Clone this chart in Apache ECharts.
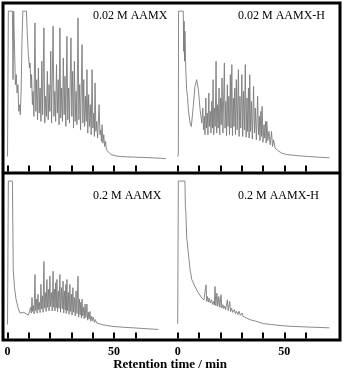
<!DOCTYPE html>
<html>
<head>
<meta charset="utf-8">
<script src="https://cdn.jsdelivr.net/npm/echarts@6/dist/echarts.min.js"></script>
<style>
  html, body { margin: 0; padding: 0; background: #fff; }
  #chart { width: 345px; height: 377px; }
</style>
</head>
<body>
<div id="chart"></div>
<script>
// Chromatograms: [retention time (min), detector signal (% of full scale)]
const trace002AAMX = [
  [0,9],[0.3,10],[0.4,96],[2.3,96],[2.6,55],[2.9,96],[3.3,96],[3.7,52],[4.1,58],[4.5,47],[4.9,52],[5.3,36],[5.7,40],[6.0,34],[6.4,48],[6.8,78],[7.2,96],[8.9,96],[9.3,82],[9.8,70],[10.3,62],
  [10.6,65],[11.0,50],[11.3,58],[11.7,40],[12.0,48],[12.4,33],[12.9,89],[13.3,36],[13.7,55],[14.1,31],[14.5,62],[14.9,35],[15.3,50],[15.7,30],[16.1,66],[16.5,34],[17.1,86],[17.5,29],[17.9,45],[18.3,33],[18.7,60],[19.1,31],[19.5,52],[19.9,36],[20.3,72],[20.7,29],[21.4,87],[21.8,33],[22.2,48],[22.6,30],[23.0,64],[23.4,35],[23.8,55],[24.2,28],[24.6,86],[25.0,32],[25.4,50],[25.8,30],[26.2,68],[26.6,34],[27.0,57],[27.4,27],[27.9,81],[28.3,31],[28.7,50],[29.1,29],[29.8,80],[30.2,33],[30.6,60],[31.0,26],[31.4,66],[31.8,30],[32.2,48],[32.6,28],[33.1,92],[33.5,31],[33.9,52],[34.3,25],[35.0,76],[35.4,29],[35.8,55],[36.2,27],[36.6,45],[37.0,30],[37.3,61],[37.7,23],[38.1,46],[38.5,27],[38.9,40],[39.3,22],[39.7,61],[40.1,26],[40.5,35],[40.8,21],[41.1,53],[41.5,24],[41.9,30],[42.3,20],[43.0,40],[43.4,22],[43.8,25],[44.1,18],[44.4,28],[44.8,17],[45.2,22],[45.6,15],[46.0,18],[46.5,13],[47.0,12],[48.0,10.8],[49.0,10],[51.0,9.3],[53.0,9],[56.0,8.8],[60.0,8.6],[64.0,8.4],[68.0,8.2],[72.0,7.9],[74.4,7.7]
];

const trace002AAMXH = [
  [0,9],[0.3,10.5],[0.4,96],[2.6,96],[2.8,72],[3.0,90],[3.2,66],[3.4,84],[3.8,61],[4.2,49],[4.6,45],[5.0,37],[5.8,29],[6.4,27],[7.3,39],[8.1,51],[8.9,55],[9.7,49],[10.5,37],[11.3,29],
  [11.8,38],[12.1,25],[12.5,33],[12.8,22],[13.2,44],[13.5,26],[13.9,35],[14.2,22],[14.6,47],[14.9,27],[15.3,36],[15.6,23],[16.0,42],[16.3,26],[16.6,55],[16.9,22],[17.3,38],[17.6,27],[18.0,66],[18.3,23],[18.7,40],[19.0,26],[19.4,50],[19.7,22],[20.1,44],[20.4,28],[20.8,56],[21.2,23],[21.9,65],[22.2,26],[22.6,42],[22.9,21.5],[23.3,52],[23.6,27],[24.0,45],[24.3,22],[24.7,58],[25.0,26],[25.4,64],[25.7,21.5],[26.1,44],[26.4,27],[26.8,50],[27.1,22],[27.5,55],[27.9,25],[28.5,61],[28.8,21],[29.2,45],[29.6,26],[30.1,58],[30.5,21],[30.9,48],[31.3,25],[31.7,64],[32.1,20.5],[32.5,44],[32.8,24],[33.2,50],[33.5,20],[33.8,58],[34.2,24],[34.6,42],[35.0,19.5],[35.6,51],[36.0,23],[36.4,38],[36.9,19],[37.5,45],[37.9,22],[38.3,33],[38.6,18.5],[39.0,36],[39.3,21],[39.6,39],[40.0,17.5],[40.5,28],[40.8,20],[41.2,30],[41.5,17],[41.8,30],[42.3,18.5],[42.8,24],[43.4,16],[44.0,24],[44.5,15],[45.0,19],[45.7,14],[47.0,12.5],[48.8,11],[51.0,10.2],[56.0,9.5],[62.0,8.9],[67.0,8.5],[71.2,8.2]
];

const trace02AAMX = [
  [0,8.5],[0.3,8.5],[0.4,96],[2.3,96],[2.5,70],[2.7,42],[3.3,31],[4.0,24],[5.1,18],[5.9,15.5],[6.8,15.2],[7.7,16],[8.7,15],[9.8,14.3],[10.4,15],
  [10.9,19],[11.2,15.5],[11.5,25],[11.8,16.5],[12.2,20],[12.5,15],[12.9,39],[13.2,17],[13.6,24],[13.9,15.5],[14.3,27],[14.6,17.5],[15.0,22],[15.3,15.8],[15.7,33],[16.0,18],[16.4,26],[16.7,16],[17.1,47],[17.4,18.5],[17.8,28],[18.1,16.5],[18.5,36],[18.8,19],[19.2,30],[19.5,16.8],[19.9,38],[20.2,19.5],[20.6,28],[21.0,16.8],[21.4,41],[21.7,19],[22.1,30],[22.3,16.8],[22.6,34],[22.9,18.8],[23.2,36],[23.5,16.4],[23.9,29],[24.2,18.5],[24.6,39],[24.9,16],[25.3,31],[25.7,18],[26.1,35],[26.4,15.6],[26.8,29],[27.1,17.5],[27.4,33],[27.6,15.2],[27.9,36],[28.2,17],[28.6,28],[28.9,14.8],[29.3,33],[29.6,16.5],[30.0,27],[30.3,14.3],[30.7,31],[31.0,16],[31.4,25],[31.8,13.8],[32.2,29],[32.6,15.2],[33.1,38],[33.4,13],[33.8,24],[34.1,14.5],[34.4,22],[34.7,12.5],[35.0,24],[35.3,13.8],[35.7,19],[36.0,12],[36.4,21],[36.8,12.8],[37.3,21],[37.6,11.2],[38.0,16],[38.3,11.8],[38.7,16.5],[39.1,10.5],[39.5,13.5],[39.9,10.8],[40.3,13],[40.8,9.8],[41.2,11.5],[41.9,9.5],[44.0,8.6],[46.6,7.9],[50.0,7.3],[55.0,6.8],[59.0,6.5],[65.0,6],[70.8,5.5]
];

const trace02AAMXH = [
  [0,9],[0.2,9],[0.3,96],[3.4,96],[3.6,80],[3.8,78],[4.2,62],[5.0,52],[5.8,42],[6.6,36],[8.1,31.7],[9.7,27.8],[11.3,24.8],[12.3,23.5],
  [12.8,23.2],[13.3,32.7],[13.6,22.6],[14.0,25.6],[14.4,22.2],[14.8,24.6],[15.3,21.6],[15.9,23.6],[16.4,20.8],[16.9,22.6],[17.2,20.4],[17.5,31.7],[17.9,20.0],[18.4,27.7],[18.8,19.6],[19.3,25.6],[19.8,19.0],[20.3,26.7],[20.7,18.6],[21.2,20.6],[21.6,18.2],[22.0,19.8],[22.5,17.6],[23.3,23.6],[23.7,17.0],[24.4,22.6],[24.8,16.4],[25.3,18.4],[25.8,15.9],[26.6,17.6],[27.1,15.2],[27.6,16.6],[28.2,14.6],[28.8,16.6],[29.4,14.1],[30.2,15.6],[30.7,13.5],[31.4,14.2],[32.2,12.6],[33.0,13.2],[34.0,11.4],[36.0,10.8],[38.0,10.0],[40.2,9.1],[44.0,8.5],[48.0,7.9],[52.0,7.5],[59.0,7.1],[65.0,6.8],[71.2,6.5]
];

const panelNames = ['0.02 M AAMX', '0.02 M AAMX-H', '0.2 M AAMX', '0.2 M AAMX-H'];
const tickMinutes = [0, 10, 20, 30, 40, 50, 60];
const labelMinutes = [0, 50];
const axisTitle = 'Retention time / min';

const traces = [trace002AAMX, trace002AAMXH, trace02AAMX, trace02AAMXH];

// panel geometry: two columns, two rows inside one frame
const cols = [{ left: 7.5, width: 164, max: 77 }, { left: 177.7, width: 162, max: 76 }];
const rows = [{ top: 4.5, height: 167 }, { top: 174.5, height: 164 }];

const grids = [], xAxes = [], yAxes = [], series = [];
for (let r = 0; r < 2; r++) {
  for (let c = 0; c < 2; c++) {
    const i = r * 2 + c;
    grids.push({ left: cols[c].left, top: rows[r].top, width: cols[c].width, height: rows[r].height });
    xAxes.push({
      type: 'value', gridIndex: i, min: 0, max: cols[c].max,
      axisLine: { show: false },
      splitLine: { show: false },
      axisTick: { show: true, inside: true, length: 6, customValues: tickMinutes,
                  lineStyle: { color: '#000', width: 2 } },
      axisLabel: { show: r === 1, customValues: labelMinutes, margin: 7,
                   fontFamily: '"Liberation Serif", serif', fontWeight: 'bold',
                   fontSize: 12, color: '#000' }
    });
    yAxes.push({ type: 'value', gridIndex: i, min: 0, max: 100, show: false });
    series.push({
      type: 'line', xAxisIndex: i, yAxisIndex: i, data: traces[i],
      showSymbol: false, symbol: 'none', smooth: false, clip: true,
      lineStyle: { color: '#7c7c7c', width: 0.9 }, animation: false
    });
  }
}

const nameSpots = [[93, 10], [238, 10], [93, 190], [238, 190]];
const graphics = [
  { type: 'rect', shape: { x: 3, y: 3, width: 337, height: 337 },
    style: { fill: 'none', stroke: '#000', lineWidth: 3 }, z: 10 },
  { type: 'line', shape: { x1: 3, y1: 173, x2: 340, y2: 173 },
    style: { stroke: '#000', lineWidth: 3 }, z: 10 },
  { type: 'text', x: 170, y: 358,
    style: { text: axisTitle, fontFamily: '"Liberation Serif", serif', fontWeight: 'bold',
             fontSize: 13, fill: '#000', textAlign: 'center', textVerticalAlign: 'top' } }
];
panelNames.forEach((name, i) => {
  graphics.push({ type: 'text', x: nameSpots[i][0], y: nameSpots[i][1],
    style: { text: name, fontFamily: '"Liberation Serif", serif', fontSize: 12,
             fill: '#000', textAlign: 'left', textVerticalAlign: 'top' } });
});

const chart = echarts.init(document.getElementById('chart'), null, { renderer: 'canvas' });
chart.setOption({
  animation: false,
  backgroundColor: '#fff',
  grid: grids, xAxis: xAxes, yAxis: yAxes, series: series,
  graphic: graphics
});
</script>
</body>
</html>
